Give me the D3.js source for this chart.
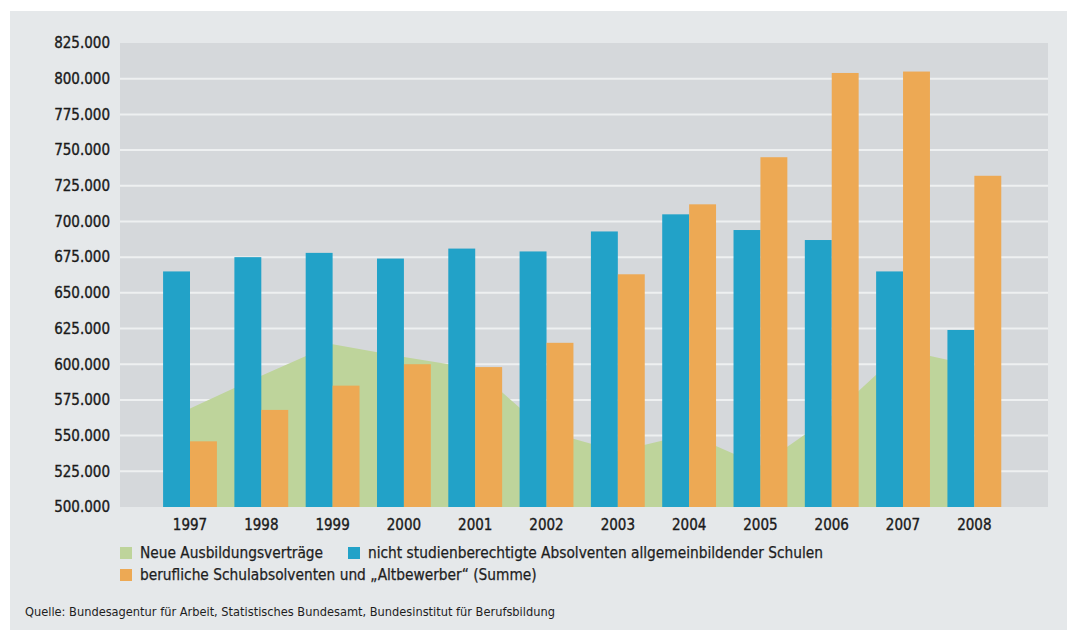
<!DOCTYPE html>
<html>
<head>
<meta charset="utf-8">
<script src="https://cdn.jsdelivr.net/npm/d3@7"></script>
<style>
    body { margin: 0; background: #ffffff; }
    svg { display: block; }
    text { font-family: "DejaVu Sans Condensed", "DejaVu Sans", sans-serif; fill: #1e1e1e; }
</style>
</head>
<body>
<div id="chart"></div>
<script>
// values
var years = ["1997", "1998", "1999", "2000", "2001", "2002", "2003", "2004", "2005", "2006", "2007", "2008"];
var neueVertraege = [569000, 592000, 614000, 605000, 597000, 553000, 539000, 551000, 529000, 564000, 610000, 599000];
var absolventen = [665000, 675000, 678000, 674000, 681000, 679000, 693000, 705000, 694000, 687000, 665000, 624000];
var altbewerber = [546000, 568000, 585000, 600000, 598000, 615000, 663000, 712000, 745000, 804000, 805000, 732000];
var yTicks = [500000, 525000, 550000, 575000, 600000, 625000, 650000, 675000, 700000, 725000, 750000, 775000, 800000, 825000];

var legendItems = [
    { label: "Neue Ausbildungsverträge", color: "#bed49b", x: 120, y: 553 },
    { label: "nicht studienberechtigte Absolventen allgemeinbildender Schulen", color: "#22a2c8", x: 348, y: 553 },
    { label: "berufliche Schulabsolventen und \u201eAltbewerber\u201c (Summe)", color: "#eda954", x: 120, y: 575 }
];
var source = "Quelle: Bundesagentur für Arbeit, Statistisches Bundesamt, Bundesinstitut für Berufsbildung";

var W = 1067, H = 630;
var plot = { left: 120, right: 1048, top: 43, bottom: 507 };

var svg = d3.select("#chart")
    .append("svg")
    .attr("width", W)
    .attr("height", H);

// background panel and plot area
svg.append("rect")
    .attr("x", 10).attr("y", 11)
    .attr("width", W - 10).attr("height", H - 11)
    .attr("fill", "#e5e8ea");

svg.append("rect")
    .attr("x", plot.left).attr("y", plot.top)
    .attr("width", plot.right - plot.left).attr("height", plot.bottom - plot.top)
    .attr("fill", "#d5d8db");

var y = d3.scaleLinear()
    .domain([500000, 825000])
    .range([plot.bottom, plot.top]);

var x = d3.scaleBand()
    .domain(years)
    .range([154.35, 1010])
    .paddingInner(0.245)
    .paddingOuter(0.1225);

var xSub = d3.scaleBand()
    .domain(["a", "b"])
    .range([0, x.bandwidth()]);

// grid lines
svg.append("g")
    .selectAll("line")
    .data(yTicks.filter(function (d) { return d > 500000 && d < 825000; }))
    .enter()
    .append("line")
    .attr("x1", plot.left)
    .attr("x2", plot.right)
    .attr("y1", function (d) { return y(d); })
    .attr("y2", function (d) { return y(d); })
    .attr("stroke", "#eef0f1")
    .attr("stroke-width", 2);

// green area behind the bars
var areaData = years.map(function (yr, i) { return { year: yr, value: neueVertraege[i] }; });
var area = d3.area()
    .x(function (d) { return x(d.year) + x.bandwidth() / 2; })
    .y0(y(500000))
    .y1(function (d) { return y(d.value); });

svg.append("path")
    .datum(areaData)
    .attr("d", area)
    .attr("fill", "#bed49b");

// bars
var barData = [];
for (var i = 0; i < years.length; i++) {
    barData.push({ year: years[i], key: "a", value: absolventen[i], color: "#22a2c8" });
    barData.push({ year: years[i], key: "b", value: altbewerber[i], color: "#eda954" });
}

svg.append("g")
    .selectAll("rect")
    .data(barData)
    .enter()
    .append("rect")
    .attr("x", function (d) { return x(d.year) + xSub(d.key); })
    .attr("y", function (d) { return y(d.value); })
    .attr("width", xSub.bandwidth())
    .attr("height", function (d) { return y(500000) - y(d.value); })
    .attr("fill", function (d) { return d.color; });

// y axis
var fmt = function (d) { return d3.format(",")(d).replace(/,/g, "."); };
var yaxis = svg.append("g")
    .attr("transform", "translate(" + 110 + ",0)")
    .call(d3.axisLeft(y).tickValues(yTicks).tickFormat(fmt).tickSize(0).tickPadding(0));
yaxis.select("path").remove();
yaxis.selectAll("text")
    .attr("font-size", "15px")
    .attr("font-family", "\"DejaVu Sans Condensed\", sans-serif")
    .style("fill", "#1a1a1a")
    .style("stroke", "#1a1a1a")
    .style("stroke-width", 0.35);

// x axis
var xaxis = svg.append("g")
    .attr("transform", "translate(0," + 519 + ")")
    .call(d3.axisBottom(x).tickSize(0).tickPadding(0));
xaxis.select("path").remove();
xaxis.selectAll("text")
    .attr("font-size", "15px")
    .attr("font-family", "\"DejaVu Sans Condensed\", sans-serif")
    .style("fill", "#1a1a1a")
    .style("stroke", "#1a1a1a")
    .style("stroke-width", 0.35);

// legend
var legend = svg.append("g")
    .selectAll("g")
    .data(legendItems)
    .enter()
    .append("g")
    .attr("transform", function (d) { return "translate(" + d.x + "," + d.y + ")"; });

legend.append("rect")
    .attr("x", 0).attr("y", -6)
    .attr("width", 12).attr("height", 12)
    .attr("fill", function (d) { return d.color; });

legend.append("text")
    .attr("x", 20)
    .attr("dy", "0.35em")
    .attr("font-size", "15.3px")
    .style("stroke", "#1e1e1e")
    .style("stroke-width", 0.25)
    .text(function (d) { return d.label; });

// source
svg.append("text")
    .attr("x", 25)
    .attr("y", 616)
    .attr("font-size", "12.7px")
    .text(source);
</script>
</body>
</html>
